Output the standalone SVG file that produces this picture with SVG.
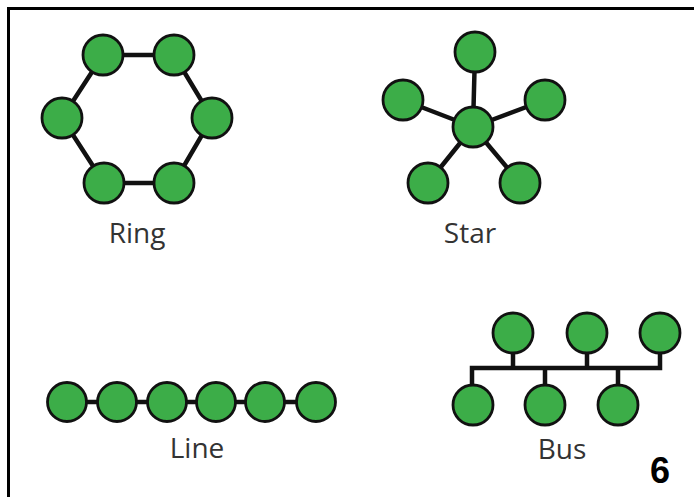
<svg xmlns="http://www.w3.org/2000/svg" width="694" height="497" viewBox="0 0 694 497">
<style>
.n{fill:#3cad48;stroke:#111;stroke-width:2.8}
.e{stroke:#111;stroke-width:4.5;fill:none}
.lbl{font-family:"Open Sans","Noto Sans",sans-serif;font-size:28px;fill:#333;text-anchor:middle}
</style>
<rect width="694" height="497" fill="#fff"/>
<path d="M8.5 497V8.5H694" stroke="#000" stroke-width="3" fill="none"/>
<g id="connectors">
<path class="e" d="M103 55H174L212 118L174 183H104L62 118Z"/>
<path class="e" d="M473 127L475 52M473 127L403 100M473 127L545 100M473 127L428 183M473 127L520 183"/>
<path class="e" d="M67 402H316"/>
<path class="e" d="M472 405V368H660V333M513 333V368M587 333V368M545 368V405M618 368V405"/>
</g>
<g id="ring">
<circle class="n" cx="103" cy="55" r="20"/>
<circle class="n" cx="174" cy="55" r="20"/>
<circle class="n" cx="62" cy="118" r="20"/>
<circle class="n" cx="212" cy="118" r="20"/>
<circle class="n" cx="104" cy="183" r="20"/>
<circle class="n" cx="174" cy="183" r="20"/>
<text class="lbl" x="137" y="243">Ring</text>
</g>
<g id="star">
<circle class="n" cx="475" cy="52" r="20"/>
<circle class="n" cx="403" cy="100" r="20"/>
<circle class="n" cx="545" cy="100" r="20"/>
<circle class="n" cx="473" cy="127" r="20"/>
<circle class="n" cx="428" cy="183" r="20"/>
<circle class="n" cx="520" cy="183" r="20"/>
<text class="lbl" x="470" y="243">Star</text>
</g>
<g id="line">
<circle class="n" cx="67" cy="402" r="19.5"/>
<circle class="n" cx="117" cy="402" r="19.5"/>
<circle class="n" cx="167" cy="402" r="19.5"/>
<circle class="n" cx="216" cy="402" r="19.5"/>
<circle class="n" cx="265" cy="402" r="19.5"/>
<circle class="n" cx="316" cy="402" r="19.5"/>
<text class="lbl" x="197" y="458">Line</text>
</g>
<g id="bus">
<circle class="n" cx="513" cy="333" r="20"/>
<circle class="n" cx="587" cy="333" r="20"/>
<circle class="n" cx="660" cy="333" r="20"/>
<circle class="n" cx="473" cy="405" r="20"/>
<circle class="n" cx="545" cy="405" r="20"/>
<circle class="n" cx="618" cy="405" r="20"/>
<text class="lbl" x="562" y="459">Bus</text>
</g>
<text x="660" y="483" font-family="Liberation Sans,Arial,sans-serif" font-weight="bold" font-size="36" text-anchor="middle" fill="#000">6</text>
</svg>
